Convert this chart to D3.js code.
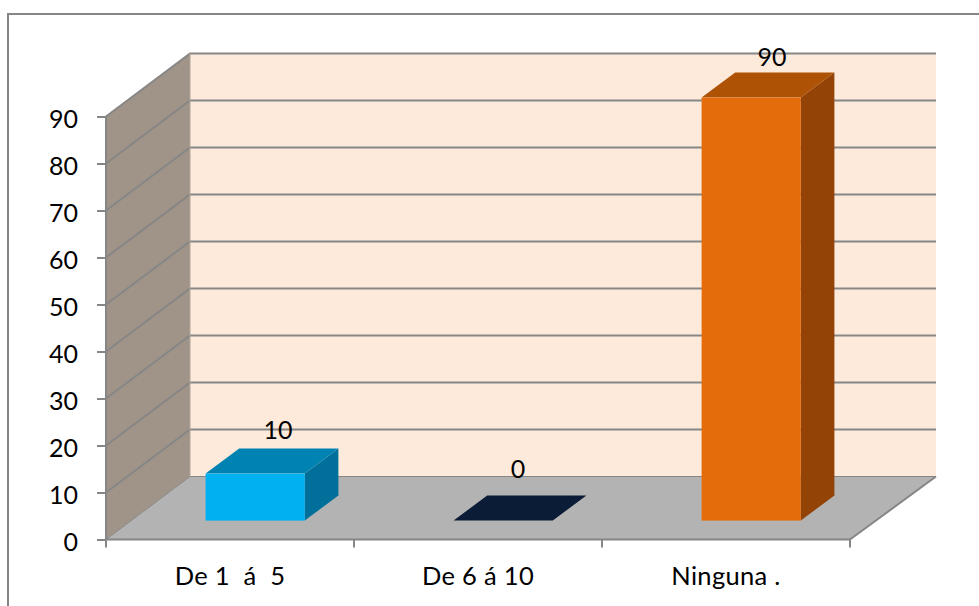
<!DOCTYPE html>
<html>
<head>
<meta charset="utf-8">
<script src="https://cdnjs.cloudflare.com/ajax/libs/d3/7.8.5/d3.min.js"></script>
<style>
html,body{margin:0;padding:0;background:#fff}
svg{display:block}
text{font-family:Lato,"Open Sans",sans-serif;fill:#000;white-space:pre}
</style>
</head>
<body>
<svg id="chart" width="979" height="606"></svg>
<script>
const categories = ["De 1  á  5", "De 6 á 10", "Ninguna ."];
const values = [10, 0, 90];
const yTicks = [0, 10, 20, 30, 40, 50, 60, 70, 80, 90];
const barFront = ["#00b0f0", "#0a1c36", "#e46c0a"];
const barTop = ["#0083b3", "#0a1c36", "#ae5205"];
const barSide = ["#00709b", "#0a1c36", "#934305"];
// hand placement of the value labels relative to the top of each bar
const labelNudgeX = [6, -2, 4];
const labelNudgeY = [-9.5, -17.5, -6];

const svg = d3.select("#chart");
const x = d3.scaleBand().domain(categories).range([106, 850]);
const y = d3.scaleLinear().domain([0, 90]).range([539.5, 116.5]);
// depth runs from the front plane (0) to the back wall (1)
const shiftX = 84, shiftY = -63;
const px = (xv, z) => xv + shiftX * z;
const py = (yv, z) => yv + shiftY * z;
const poly = pts => pts.map(p => p.join(",")).join(" ");
const gridColor = "#868686";

// chart frame, running off the right and bottom of the page
svg.append("rect").attr("x", 8).attr("y", 14).attr("width", 1000).attr("height", 700)
  .attr("fill", "#fff").attr("stroke", gridColor).attr("stroke-width", 2);

const x0 = x.range()[0], x1 = x.range()[1];
const yBase = y(0), yTop = y(90);
const backRight = px(x1, 1) + 2;

// left wall
svg.append("polygon")
  .attr("points", poly([[px(x0,0),yBase],[px(x0,1),py(yBase,1)],[px(x0,1),py(yTop,1)],[px(x0,0),yTop]]))
  .attr("fill", "#a09488");
// back wall
svg.append("rect")
  .attr("x", px(x0,1)).attr("y", py(yTop,1))
  .attr("width", backRight - px(x0,1)).attr("height", yBase - yTop)
  .attr("fill", "#fdeada");
// floor
svg.append("polygon")
  .attr("points", poly([[px(x0,0),yBase],[x1,yBase],[backRight,py(yBase,1)],[px(x0,1),py(yBase,1)]]))
  .attr("fill", "#b3b3b3");

// gridlines along the left wall and across the back wall
const grid = svg.append("g").attr("fill", "none").attr("stroke", gridColor);
yTicks.forEach(t => {
  grid.append("polyline")
    .attr("points", poly([[px(x0,0),y(t)],[px(x0,1),py(y(t),1)],[backRight,py(y(t),1)]]))
    .attr("stroke-width", t === 0 ? 1 : 2);
});
grid.append("line").attr("x1", px(x0,1)).attr("x2", px(x0,1))
  .attr("y1", py(yTop,1)).attr("y2", py(yBase,1)).attr("stroke-width", 1).attr("stroke", "#b0a69c");
grid.append("line").attr("x1", x1).attr("x2", backRight)
  .attr("y1", yBase).attr("y2", py(yBase,1)).attr("stroke-width", 2);

// value axis
const yAxis = svg.append("g").attr("transform", `translate(${x0},0)`)
  .call(d3.axisLeft(y).tickValues(yTicks).tickSize(9));
yAxis.select(".domain").attr("stroke", gridColor).attr("stroke-width", 2).attr("d", `M0,${yTop}V${yBase}`);
yAxis.selectAll(".tick line").attr("stroke", gridColor).attr("stroke-width", 2);
yAxis.selectAll("text").style("font-size", "25px").attr("font-family", null).attr("x", -28).attr("dy", "0.42em");

// category axis
const xAxisLine = svg.append("g").attr("stroke", gridColor);
xAxisLine.append("line").attr("x1", x0).attr("x2", x1).attr("y1", yBase).attr("y2", yBase).attr("stroke-width", 2);
[x0, ...categories.map(c => x(c) + x.bandwidth())].forEach(v => {
  xAxisLine.append("line").attr("x1", v).attr("x2", v).attr("y1", yBase).attr("y2", yBase + 8).attr("stroke-width", 2);
});
svg.append("g").selectAll("text").data(categories).join("text")
  .attr("x", d => x(d) + x.bandwidth() / 2)
  .attr("y", 585)
  .attr("text-anchor", "middle")
  .style("font-size", "25.5px")
  .style("letter-spacing", "0.3px")
  .text(d => d);

// bars sit between 30% and 70% of the floor depth, filling 40% of each band
const barWidth = x.bandwidth() * 0.4;
const zF = 0.3, zB = 0.7;
const bars = svg.append("g");
categories.forEach((c, i) => {
  const l = x(c) + (x.bandwidth() - barWidth) / 2, r = l + barWidth;
  const b = y(0), t = y(values[i]);
  bars.append("polygon")
    .attr("points", poly([[px(r,zF),py(b,zF)],[px(r,zB),py(b,zB)],[px(r,zB),py(t,zB)],[px(r,zF),py(t,zF)]]))
    .attr("fill", barSide[i]);
  bars.append("polygon")
    .attr("points", poly([[px(l,zF),py(t,zF)],[px(r,zF),py(t,zF)],[px(r,zB),py(t,zB)],[px(l,zB),py(t,zB)]]))
    .attr("fill", barTop[i]);
  bars.append("rect")
    .attr("x", px(l,zF)).attr("y", py(t,zF))
    .attr("width", barWidth).attr("height", b - t)
    .attr("fill", barFront[i]);
});

// value labels above each bar
svg.append("g").selectAll("text").data(categories).join("text")
  .attr("x", (d, i) => px(x(d) + x.bandwidth() / 2, 0.5) + labelNudgeX[i])
  .attr("y", (d, i) => py(y(values[i]), zB) + labelNudgeY[i])
  .attr("text-anchor", "middle")
  .style("font-size", "25px")
  .text((d, i) => values[i]);
</script>
</body>
</html>
